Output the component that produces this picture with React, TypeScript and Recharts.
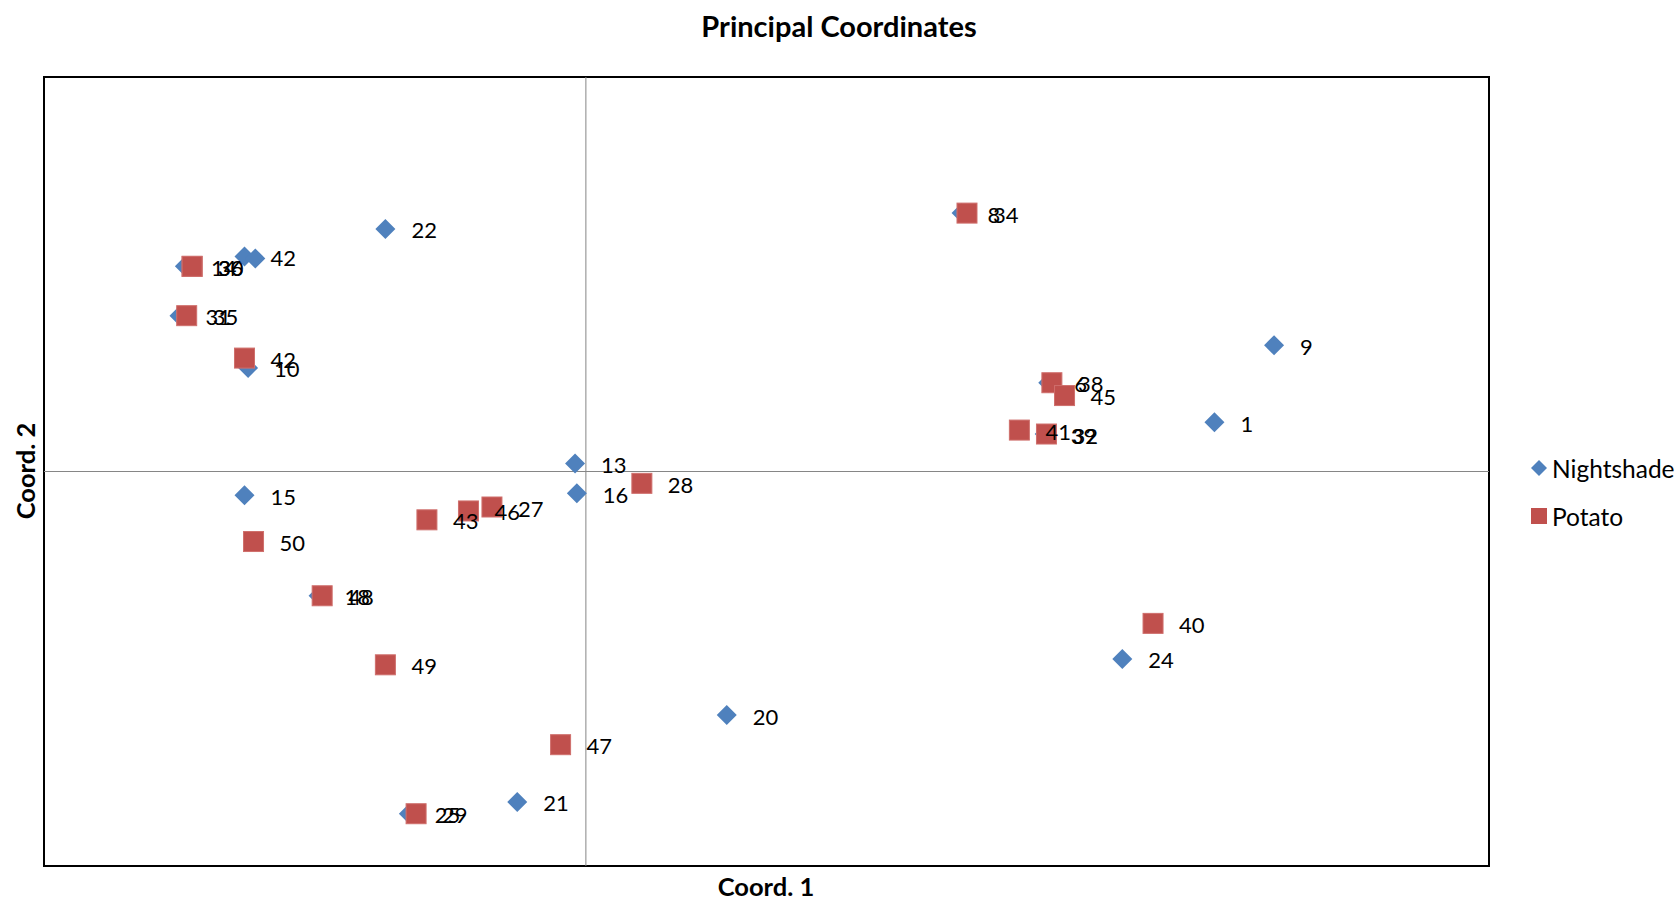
import {
  ScatterChart,
  Scatter,
  XAxis,
  YAxis,
  ReferenceLine,
  ReferenceArea,
  Legend,
} from 'recharts';

const nightX = [-0.189, -0.183, -0.222, -0.225, -0.187, -0.111, -0.189, -0.006, -0.005, -0.148, -0.098, -0.038, 0.078, 0.208, 0.256, 0.254, 0.348, 0.381, 0.297];
const nightY = [0.218, 0.216, 0.208, 0.158, 0.105, 0.246, -0.024, 0.008, -0.022, -0.126, -0.347, -0.335, -0.247, 0.262, 0.09, 0.038, 0.05, 0.128, -0.19];
const nightLabels = ['42', '', '14', '31', '10', '22', '15', '13', '16', '18', '25', '21', '20', '8', '6', '39', '1', '9', '24'];

const potatoX = [-0.218, -0.218, -0.221, -0.189, -0.184, -0.146, -0.111, -0.088, -0.065, -0.052, 0.031, -0.014, -0.094, 0.211, 0.258, 0.265, 0.24, 0.255, 0.314];
const potatoY = [0.208, 0.208, 0.158, 0.115, -0.071, -0.126, -0.196, -0.049, -0.04, -0.036, -0.012, -0.277, -0.347, 0.262, 0.09, 0.077, 0.042, 0.038, -0.154];
const potatoLabels = ['30', '36', '35', '42', '50', '48', '49', '43', '46', '27', '28', '47', '29', '34', '38', '45', '41', '32', '40'];

const xDomain = [-0.3, 0.5];
const yDomain = [-0.4, 0.4];

const BLUE = '#4f81bd';
const RED = '#c0504d';
const FONT = 'Lato, "Open Sans", sans-serif';

const nightData = nightX.map((x, i) => ({ x, y: nightY[i], label: nightLabels[i] }));
const potatoData = potatoX.map((x, i) => ({ x, y: potatoY[i], label: potatoLabels[i] }));

// labels go in their own layer so they sit above every marker, like Excel
const LabelOnly = (props: any) => {
  const { cx, cy, payload } = props;
  if (!payload.label) return <g />;
  return (
    <text x={cx + 26} y={cy + 1} dominantBaseline="central" fontSize={22} fontFamily={FONT} fill="#000">
      {payload.label}
    </text>
  );
};

const Diamond = (props: any) => {
  const { cx, cy } = props;
  const r = 10;
  return <polygon points={`${cx},${cy - r} ${cx + r},${cy} ${cx},${cy + r} ${cx - r},${cy}`} fill={BLUE} />;
};

const Square = (props: any) => {
  const { cx, cy } = props;
  const s = 20;
  return <rect x={cx - s / 2} y={cy - s / 2} width={s} height={s} fill={RED} stroke="#cf6f6c" strokeWidth={1} />;
};

const renderLegend = () => (
  <div style={{ fontFamily: FONT, fontSize: 24.5, color: '#000' }}>
    <div style={{ display: 'flex', alignItems: 'center', height: 48 }}>
      <svg width={22} height={22}>
        <polygon points="11,3 19,11 11,19 3,11" fill={BLUE} />
      </svg>
      <span style={{ marginLeft: 2 }}>Nightshade</span>
    </div>
    <div style={{ display: 'flex', alignItems: 'center', height: 48 }}>
      <svg width={22} height={22}>
        <rect x={3} y={3} width={16} height={16} fill={RED} />
      </svg>
      <span style={{ marginLeft: 2 }}>Potato</span>
    </div>
  </div>
);

export default function App() {
  return (
    <div style={{ position: 'absolute', left: 0, top: 0, width: 1680, height: 900, background: '#fff' }}>
      <div
        style={{
          position: 'absolute',
          left: 839,
          top: 8,
          transform: 'translateX(-50%)',
          fontFamily: FONT,
          fontWeight: 700,
          fontSize: 29,
          whiteSpace: 'nowrap',
        }}
      >
        Principal Coordinates
      </div>
      <ScatterChart width={1680} height={900} margin={{ top: 77, right: 191, bottom: 34, left: 44 }}>
        <XAxis type="number" dataKey="x" domain={xDomain} hide allowDataOverflow />
        <YAxis type="number" dataKey="y" domain={yDomain} hide allowDataOverflow />
        <ReferenceArea
          x1={xDomain[0]}
          x2={xDomain[1]}
          y1={yDomain[0]}
          y2={yDomain[1]}
          fill="none"
          stroke="#000"
          strokeWidth={2}
          fillOpacity={0}
        />
        <ReferenceLine x={0} stroke="#868686" strokeWidth={1} />
        <ReferenceLine y={0} stroke="#868686" strokeWidth={1} />
        <Legend
          verticalAlign="middle"
          align="center"
          layout="horizontal"
          content={renderLegend}
          wrapperStyle={{ position: 'absolute', left: 1528, top: 444, width: 150 }}
        />
        <Scatter name="Nightshade" data={nightData} shape={Diamond} isAnimationActive={false} />
        <Scatter name="Potato" data={potatoData} shape={Square} isAnimationActive={false} />
        <Scatter name="nightLabels" data={nightData} shape={LabelOnly} legendType="none" isAnimationActive={false} />
        <Scatter name="potatoLabels" data={potatoData} shape={LabelOnly} legendType="none" isAnimationActive={false} />
      </ScatterChart>
      <div
        style={{
          position: 'absolute',
          left: 766,
          top: 871,
          transform: 'translateX(-50%)',
          fontFamily: FONT,
          fontWeight: 700,
          fontSize: 25.5,
          whiteSpace: 'nowrap',
        }}
      >
        Coord. 1
      </div>
      <div
        style={{
          position: 'absolute',
          left: 25,
          top: 471,
          transform: 'translate(-50%, -50%) rotate(-90deg)',
          fontFamily: FONT,
          fontWeight: 700,
          fontSize: 25.5,
          whiteSpace: 'nowrap',
        }}
      >
        Coord. 2
      </div>
    </div>
  );
}
